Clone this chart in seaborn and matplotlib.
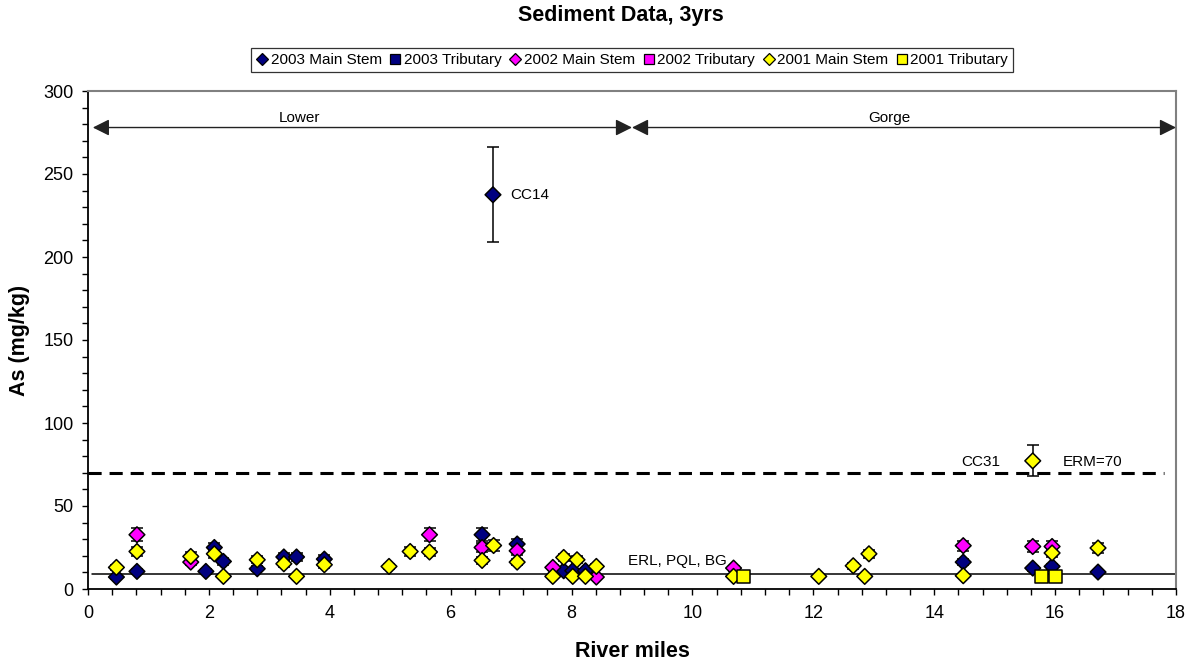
import numpy as np
import pandas as pd
import matplotlib
matplotlib.use("Agg")
import matplotlib.pyplot as plt
from matplotlib.lines import Line2D
from matplotlib.ticker import MultipleLocator
import seaborn as sns

# ---- Arsenic in sediment, by river mile and survey year ----
series_names = ["2003 Main Stem", "2003 Tributary", "2002 Main Stem",
                "2002 Tributary", "2001 Main Stem", "2001 Tributary"]

mile_2003_ms = [0.47, 0.81, 1.95, 2.09, 2.24, 2.80, 3.24, 3.45, 3.91, 6.52,
                6.70, 7.10, 7.87, 8.02, 8.23, 14.48, 15.63, 15.95, 16.71]
as_2003_ms = [7.2, 10.6, 10.6, 25.0, 16.6, 12.2, 19.3, 19.3, 18.0, 32.7,
              237.5, 27.1, 11.0, 11.0, 11.0, 16.2, 12.6, 13.6, 10.2]
err_2003_ms = [0.9, 1.3, 1.3, 3.0, 2.0, 1.5, 2.3, 2.3, 2.2, 3.9,
               28.5, 3.3, 1.3, 1.3, 1.3, 1.9, 1.5, 1.6, 1.2]

mile_2003_tr = []
as_2003_tr = []
err_2003_tr = []

mile_2002_ms = [0.81, 1.70, 5.65, 6.52, 7.10, 7.69, 8.41, 10.68, 14.48, 15.63, 15.95]
as_2002_ms = [32.7, 16.2, 32.7, 25.0, 23.0, 13.0, 7.2, 12.6, 26.1, 25.6, 25.6]
err_2002_ms = [3.9, 1.9, 3.9, 3.0, 2.8, 1.6, 0.9, 1.5, 3.1, 3.1, 3.1]

mile_2002_tr = []
as_2002_tr = []
err_2002_tr = []

mile_2001_ms = [0.47, 0.81, 1.70, 2.09, 2.24, 2.80, 3.24, 3.45, 3.91, 4.98,
                5.33, 5.65, 6.52, 6.71, 7.10, 7.69, 7.87, 8.02, 8.09, 8.23,
                8.41, 10.68, 12.09, 12.66, 12.85, 12.92, 14.48, 15.63, 15.95, 16.71]
as_2001_ms = [13.0, 22.6, 19.6, 21.2, 7.6, 17.6, 15.2, 7.6, 14.6, 13.6,
              22.6, 22.3, 17.2, 26.2, 16.2, 7.6, 19.0, 7.6, 17.6, 7.6,
              13.6, 7.6, 7.6, 14.0, 7.6, 21.2, 8.0, 77.2, 21.7, 24.7]
err_2001_ms = [1.6, 2.7, 2.4, 2.5, 0.9, 2.1, 1.8, 0.9, 1.8, 1.6,
               2.7, 2.7, 2.1, 3.1, 1.9, 0.9, 2.3, 0.9, 2.1, 0.9,
               1.6, 0.9, 0.9, 1.7, 0.9, 2.5, 1.0, 9.3, 2.6, 3.0]

mile_2001_tr = [10.84, 15.77, 16.01]
as_2001_tr = [7.6, 7.6, 7.6]
err_2001_tr = [0.9, 0.9, 0.9]

erl_value = 9      # ERL, PQL, BG
erm_value = 70     # ERM

x_ticks = list(range(0, 19, 2))
y_ticks = list(range(0, 301, 50))

# ---- styling ----
colors = {"2003 Main Stem": "#000080", "2003 Tributary": "#000080",
          "2002 Main Stem": "#FF00FF", "2002 Tributary": "#FF00FF",
          "2001 Main Stem": "#FFFF00", "2001 Tributary": "#FFFF00"}
markers = {"2003 Main Stem": "D", "2003 Tributary": "s",
           "2002 Main Stem": "D", "2002 Tributary": "s",
           "2001 Main Stem": "D", "2001 Tributary": "s"}
sizes = {"2003 Main Stem": 64, "2003 Tributary": 88,
         "2002 Main Stem": 64, "2002 Tributary": 88,
         "2001 Main Stem": 64, "2001 Tributary": 88}

miles = [mile_2003_ms, mile_2003_tr, mile_2002_ms, mile_2002_tr, mile_2001_ms, mile_2001_tr]
values = [as_2003_ms, as_2003_tr, as_2002_ms, as_2002_tr, as_2001_ms, as_2001_tr]
errors = [err_2003_ms, err_2003_tr, err_2002_ms, err_2002_tr, err_2001_ms, err_2001_tr]

frames = []
for name, m, v, e in zip(series_names, miles, values, errors):
    frames.append(pd.DataFrame({"mile": m, "As": v, "err": e, "series": name}))
df = pd.concat([f for f in frames if len(f)], ignore_index=True)

sns.set_style("ticks")
plt.rcParams["font.family"] = ["Liberation Sans", "DejaVu Sans"]
for key in ["text.color", "axes.labelcolor", "xtick.color", "ytick.color"]:
    plt.rcParams[key] = "black"

fig = plt.figure(figsize=(11.92, 6.67), dpi=100)
ax = fig.add_axes([88 / 1192, 1 - 589 / 667, (1176 - 88) / 1192, (589 - 91) / 667])

# error bars under the markers
for name, m, v, e in zip(series_names, miles, values, errors):
    if len(m):
        ax.errorbar(m, v, yerr=e, fmt="none", ecolor="black", elinewidth=1.1,
                    capsize=4, capthick=1.1, zorder=1)

sns.scatterplot(data=df, x="mile", y="As", hue="series", style="series", size="series",
                hue_order=series_names, style_order=series_names, size_order=series_names,
                palette=colors, markers=markers, sizes=sizes,
                edgecolor="black", linewidth=1.1, legend=False, zorder=3, ax=ax)

# reference lines
ax.plot([0.07, 18], [erl_value, erl_value], color="black", lw=1.1, zorder=2)
ax.plot([0, 17.8], [erm_value, erm_value], color="black", lw=2.2,
        dashes=(4.3, 2.6), zorder=2)

# reach arrows
arrow_kw = dict(arrowstyle="<|-|>,head_length=1.0,head_width=0.5", color="#222222",
                lw=1.0, shrinkA=0, shrinkB=0, mutation_scale=10)
ax.annotate("", xy=(0.08, 278), xytext=(9.0, 278), arrowprops=arrow_kw)
ax.annotate("", xy=(9.0, 278), xytext=(18.0, 278), arrowprops=arrow_kw)
ax.text(3.5, 284, "Lower", ha="center", va="center", fontsize=11)
ax.text(13.25, 284, "Gorge", ha="center", va="center", fontsize=11)

# annotations
ax.text(6.99, 237.5, "CC14", ha="left", va="center", fontsize=11)
ax.text(15.10, 76.4, "CC31", ha="right", va="center", fontsize=11)
ax.text(16.12, 76.4, "ERM=70", ha="left", va="center", fontsize=11)
ax.text(8.93, 17.0, "ERL, PQL, BG", ha="left", va="center", fontsize=11)

# axes
ax.set_xlim(0, 18)
ax.set_ylim(0, 300)
ax.set_xticks(x_ticks)
ax.set_yticks(y_ticks)
ax.xaxis.set_minor_locator(MultipleLocator(0.4))
ax.yaxis.set_minor_locator(MultipleLocator(10))
ax.tick_params(axis="both", which="both", direction="out", length=4.3, width=1.0,
               color="black", labelsize=13, labelcolor="black")
ax.tick_params(axis="x", which="major", pad=7)
ax.tick_params(axis="y", which="major", pad=6)
for side in ["left", "bottom"]:
    ax.spines[side].set_color("black")
    ax.spines[side].set_linewidth(1.3)
for side in ["top", "right"]:
    ax.spines[side].set_visible(True)
    ax.spines[side].set_color("#808080")
    ax.spines[side].set_linewidth(1.5)
ax.set_xlabel("River miles", fontsize=15.5, fontweight="bold", labelpad=14, color="black")
ax.set_ylabel("As (mg/kg)", fontsize=15.5, fontweight="bold", labelpad=10, color="black")

fig.text(621 / 1192, 1 - 16 / 667, "Sediment Data, 3yrs", ha="center", va="center",
         fontsize=15.5, fontweight="bold", color="black")

# legend
handles = []
for name in series_names:
    mk = markers[name]
    handles.append(Line2D([], [], linestyle="none", marker=mk,
                          markerfacecolor=colors[name], markeredgecolor="black",
                          markeredgewidth=0.9, markersize=6.0 if mk == "D" else 6.5))
leg = fig.legend(handles, series_names, loc="center", bbox_to_anchor=(632 / 1192, 1 - 60 / 667),
                 ncol=6, fontsize=11, frameon=True, fancybox=False, edgecolor="black",
                 handlelength=0.8, handletextpad=0.15, columnspacing=0.5,
                 borderpad=0.3, borderaxespad=0)
leg.get_frame().set_linewidth(0.9)
for t in leg.get_texts():
    t.set_color("black")

fig.savefig("out.png", dpi=100)
